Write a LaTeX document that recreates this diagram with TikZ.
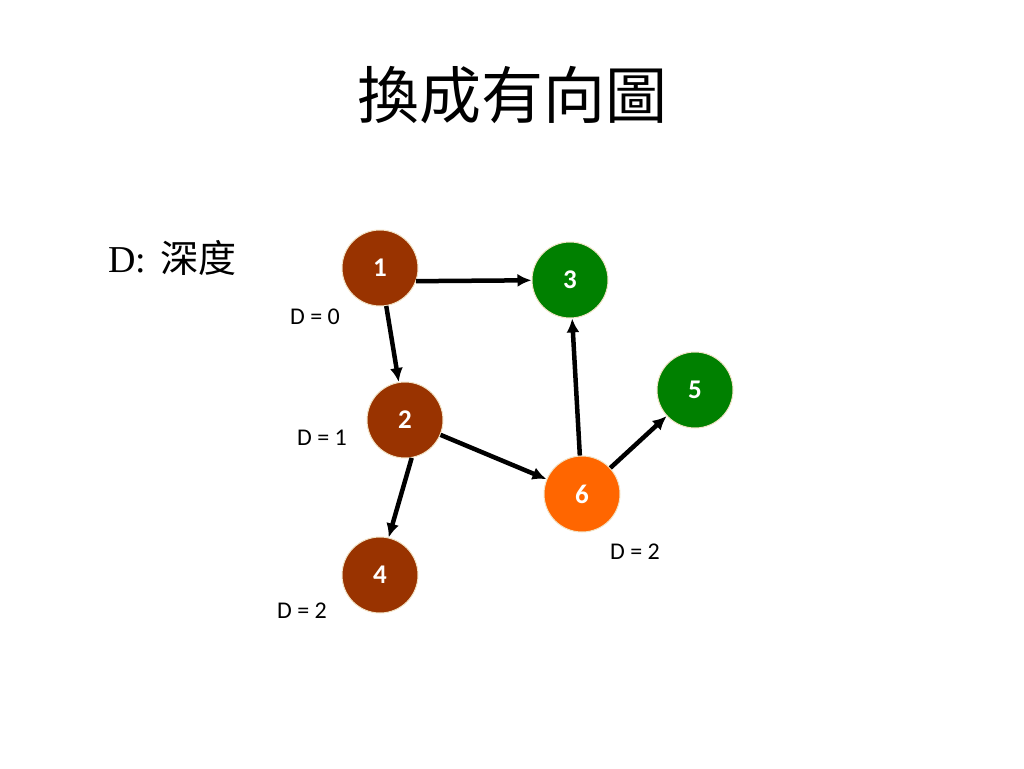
\documentclass[tikz,border=0pt]{standalone}
\usepackage{fontspec}
\setmainfont{Carlito}
\newfontfamily\cjk{Noto Sans CJK TC}
\newfontfamily\serifD{Liberation Serif}
\usetikzlibrary{arrows.meta}
\definecolor{vbrown}{HTML}{993300}
\definecolor{vgreen}{HTML}{008000}
\definecolor{vorange}{HTML}{FF6600}
\definecolor{vrim}{HTML}{F2E3C6}

\begin{document}
\begin{tikzpicture}[x=1pt, y=-1pt,
  vertex/.style={circle, draw=vrim, line width=1pt, minimum size=76pt, inner sep=0pt,
    text=white, font=\fontsize{27}{27}\selectfont\bfseries},
  depth/.style={font=\fontsize{24}{24}\selectfont},
  edge/.style={line width=4.5pt, -{Latex[length=14pt,width=13pt]}}]
\useasboundingbox (0,0) rectangle (1024,768);
\node [font=\cjk\fontsize{62}{62}\selectfont] (title) at (512,95) {換成有向圖};
\node [anchor=west, inner sep=0pt] (legend) at (108,258) {\fontsize{38}{38}\selectfont\serifD D:\hspace{14pt}\cjk 深度};
% vertices
\node [vertex, fill=vbrown] (v1) at (380,268) {1};
\node [vertex, fill=vgreen] (v3) at (570,280) {3};
\node [vertex, fill=vbrown] (v2) at (405,420) {2};
\node [vertex, fill=vorange] (v6) at (582,494) {6};
\node [vertex, fill=vgreen] (v5) at (695,390) {5};
\node [vertex, fill=vbrown] (v4) at (380,575) {4};
% depth labels
\node [depth] (d1) at (315,317) {D = 0};
\node [depth] (d2) at (322,438) {D = 1};
\node [depth] (d4) at (302,611) {D = 2};
\node [depth] (d6) at (635,552) {D = 2};
% arcs
\draw [edge] (v1.-20) -- (v3);
\draw [edge] (v1) -- (v2);
\draw [edge] (v2.-80) -- (v4.77);
\draw [edge] (v2) -- (v6);
\draw [edge] (v6) -- (v3);
\draw [edge] (v6) -- (v5);
\end{tikzpicture}
\end{document}
